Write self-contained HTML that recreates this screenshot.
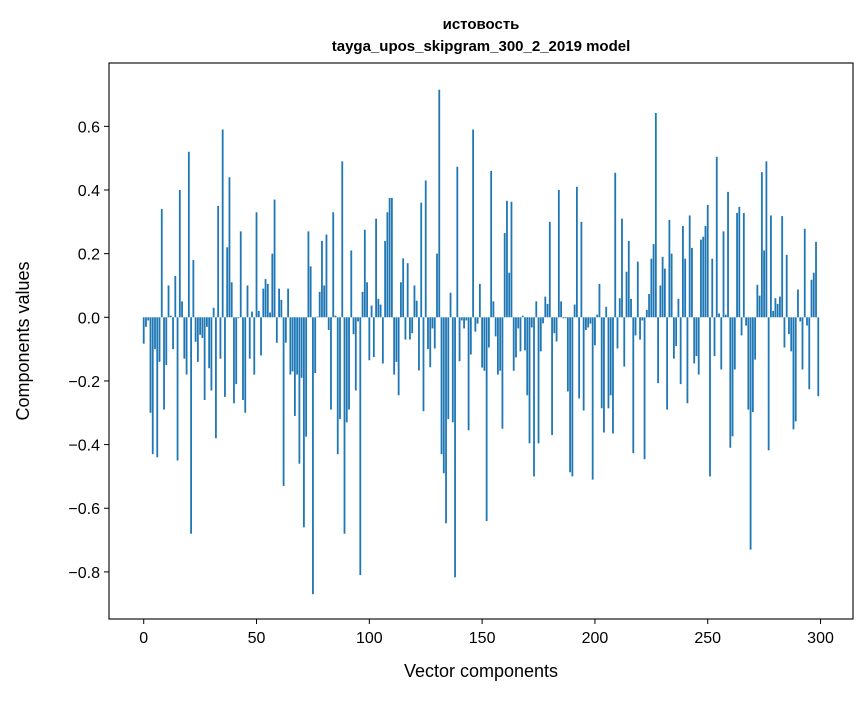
<!DOCTYPE html>
<html><head><meta charset="utf-8"><style>
body{margin:0;background:#fff;}
svg text{font-family:"Liberation Sans","DejaVu Sans",sans-serif;fill:#000;}
</style></head><body>
<svg id="chart" width="867" height="696" xmlns="http://www.w3.org/2000/svg">
<rect x="0" y="0" width="867" height="696" fill="#fff"/>
<g id="bars"></g>
<rect x="109" y="63" width="744" height="556" fill="none" stroke="#000" stroke-width="1.1"/>
<g id="xticks"></g>
<g id="yticks"></g>
<text x="481" y="29" text-anchor="middle" font-size="15" font-weight="bold">истовость</text>
<text x="481" y="51" text-anchor="middle" font-size="15" font-weight="bold">tayga_upos_skipgram_300_2_2019 model</text>
<text x="481" y="677" text-anchor="middle" font-size="18">Vector components</text>
<text x="0" y="0" transform="translate(29,341) rotate(-90)" text-anchor="middle" font-size="18">Components values</text>
</svg>
<script>
const values = [-0.083,-0.03,-0.01,-0.30,-0.43,-0.10,-0.44,-0.14,0.34,-0.29,
-0.15,0.10,0.005,-0.10,0.13,-0.45,0.40,0.05,-0.13,-0.18,
0.52,-0.68,0.18,-0.077,-0.14,-0.055,-0.065,-0.26,-0.03,-0.16,
-0.23,0.03,-0.38,0.35,-0.13,0.59,-0.25,0.22,0.44,0.11,
-0.27,-0.21,-0.003,0.27,-0.26,-0.30,0.10,-0.13,0.018,-0.18,
0.33,0.02,-0.12,0.09,0.12,0.105,0.015,0.20,0.37,-0.08,
0.09,0.055,-0.53,-0.08,0.09,-0.18,-0.17,-0.31,-0.18,-0.46,
-0.19,-0.66,-0.375,0.27,0.16,-0.87,-0.175,0.002,0.08,0.24,
0.10,0.26,-0.04,-0.29,0.33,0.005,-0.43,-0.32,0.49,-0.68,
-0.33,-0.29,0.21,-0.053,-0.23,-0.013,-0.81,0.08,0.275,0.11,
-0.135,0.037,-0.125,0.31,0.058,0.04,-0.145,0.24,0.33,0.375,
0.375,-0.18,-0.14,-0.245,0.11,0.185,-0.07,0.17,-0.07,-0.05,
0.10,0.052,-0.167,0.36,-0.295,0.43,-0.10,-0.157,-0.035,-0.098,
0.20,0.715,-0.43,-0.49,-0.647,-0.32,0.077,-0.33,-0.817,0.473,
-0.138,-0.01,-0.035,-0.01,-0.355,-0.117,0.59,-0.045,-0.02,0.105,
-0.158,-0.168,-0.64,-0.095,0.46,0.05,-0.06,-0.18,-0.168,-0.35,
0.265,0.366,0.14,0.363,-0.168,-0.126,-0.035,-0.107,0.005,-0.104,
-0.245,-0.396,-0.032,-0.50,0.05,-0.396,-0.107,-0.019,0.065,0.042,
0.30,-0.37,-0.05,-0.076,0.40,0.05,-0.003,-0.003,-0.233,-0.487,
-0.50,0.04,0.41,-0.255,0.30,-0.293,-0.04,-0.032,-0.02,-0.51,
-0.088,0.008,0.105,-0.286,-0.362,0.033,-0.286,-0.245,-0.365,0.454,
-0.098,0.06,0.31,-0.155,0.143,0.24,0.058,-0.427,-0.057,0.175,
-0.07,-0.01,-0.446,0.023,0.073,0.184,0.23,0.642,-0.207,0.10,
0.19,0.153,-0.29,0.306,0.20,-0.13,-0.09,0.058,-0.21,0.287,
0.184,-0.27,0.32,0.218,-0.145,-0.122,-0.18,0.244,0.253,0.287,
0.353,-0.50,0.184,-0.122,0.504,0.012,-0.164,0.27,0.008,0.394,
-0.41,-0.374,-0.164,0.328,0.347,-0.057,0.328,-0.026,-0.29,-0.73,
-0.298,-0.133,0.102,0.068,0.456,0.21,0.49,-0.418,0.32,0.02,
0.06,0.042,0.065,0.318,-0.095,0.196,-0.053,-0.107,-0.352,-0.327,
0.087,-0.013,-0.164,0.278,-0.026,-0.226,0.118,0.14,0.237,-0.248];
const xTickLabels = ["0","50","100","150","200","250","300"];
const xTickValues = [0,50,100,150,200,250,300];
const yTickValues = [-0.8,-0.6,-0.4,-0.2,0.0,0.2,0.4,0.6];

const X0=109,X1=853,Y0=63,Y1=619;
const xMin=-15.39,xMax=314.39,yMin=-0.948,yMax=0.799;
const xs=v=>X0+(v-xMin)/(xMax-xMin)*(X1-X0);
const ys=v=>Y1-(v-yMin)/(yMax-yMin)*(Y1-Y0);
const NS="http://www.w3.org/2000/svg";
const bars=document.getElementById('bars');
values.forEach((v,i)=>{
  const r=document.createElementNS(NS,'rect');
  
  
  const xa=xs(i-0.4),xb=xs(i+0.4);
  const ya=ys(Math.max(v,0)),yb=ys(Math.min(v,0));
  r.setAttribute('x',xa);r.setAttribute('width',xb-xa);
  r.setAttribute('y',ya);r.setAttribute('height',Math.max(yb-ya,0.3));
  r.setAttribute('fill','#1f77b4');
  bars.appendChild(r);
});
const xt=document.getElementById('xticks');
xTickValues.forEach((v,i)=>{
  const x=xs(v);
  const l=document.createElementNS(NS,'line');
  
  
  l.setAttribute('x1',x);l.setAttribute('x2',x);l.setAttribute('y1',Y1);l.setAttribute('y2',Y1+5);
  l.setAttribute('stroke','#000');
  xt.appendChild(l);
  const t=document.createElementNS(NS,'text');
  
  
  t.setAttribute('x',x);t.setAttribute('y',Y1+24);
  t.setAttribute('text-anchor','middle');t.setAttribute('font-size','16');
  t.textContent=xTickLabels[i];
  xt.appendChild(t);
});
const yt=document.getElementById('yticks');
yTickValues.forEach(v=>{
  const y=ys(v);
  const l=document.createElementNS(NS,'line');
  
  
  l.setAttribute('x1',X0-5);l.setAttribute('x2',X0);l.setAttribute('y1',y);l.setAttribute('y2',y);
  l.setAttribute('stroke','#000');
  yt.appendChild(l);
  const t=document.createElementNS(NS,'text');
  
  
  t.setAttribute('x',X0-9);t.setAttribute('y',y+6);
  t.setAttribute('text-anchor','end');t.setAttribute('font-size','16');
  t.textContent=(v<0?'\u2212':'')+Math.abs(v).toFixed(1);
  yt.appendChild(t);
});
</script>
</body></html>
